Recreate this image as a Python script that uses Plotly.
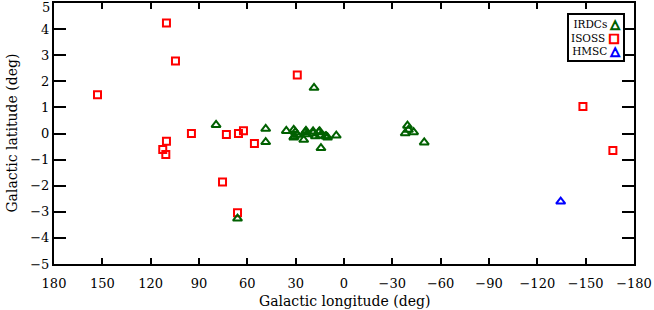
import plotly.graph_objects as go

# ISOSS (red squares)
isoss_lon = [153.0, 110.2, 104.6, 29.0, 94.7, 110.2, 112.5, 110.6, 73.0, 65.5, 62.4, 55.6, 75.4, 66.1, -148.3, -166.9]
isoss_lat = [1.48, 4.23, 2.78, 2.24, 0.0, -0.30, -0.61, -0.80, -0.04, 0.0, 0.11, -0.38, -1.86, -3.04, 1.03, -0.65]

# IRDCs (green triangles)
irdc_lon = [79.4, 48.6, 48.6, 66.1, 18.6, 35.8, 30.2, 29.1, 31.2, 24.0, 23.4, 25.0, 19.2, 17.8, 15.7, 14.7,
            11.6, 10.2, 14.3, 4.8, 31.2, 30.8, 23.6, 19.2, 15.1, 11.0, -39.4, -38.0, -43.2, -40.0, -49.8]
irdc_lat = [0.33, 0.18, -0.33, -3.26, 1.75, 0.10, 0.05, -0.05, -0.15, 0.05, -0.03, -0.24, 0.01, -0.11, 0.05, -0.08,
            -0.11, -0.15, -0.56, -0.08, 0.14, -0.11, 0.10, 0.08, 0.08, -0.11, 0.30, 0.01, 0.05, 0.14, -0.34]

# HMSC (blue triangle)
hmsc_lon = [-134.5]
hmsc_lat = [-2.61]

xticks = [180, 150, 120, 90, 60, 30, 0, -30, -60, -90, -120, -150, -180]
yticks = [-5, -4, -3, -2, -1, 0, 1, 2, 3, 4, 5]

fuente = "DejaVu Serif"
verde = "#006000"

def etiqueta(v):
    return str(v) if v >= 0 else "\u2212" + str(-v)

fig = go.Figure()
fig.add_trace(go.Scatter(x=isoss_lon, y=isoss_lat, mode="markers", name="ISOSS",
                         marker=dict(symbol="square-open", size=7, color="red", line=dict(width=2))))
fig.add_trace(go.Scatter(x=irdc_lon, y=irdc_lat, mode="markers", name="IRDCs",
                         marker=dict(symbol="triangle-up-open", size=8, color=verde, line=dict(width=2))))
fig.add_trace(go.Scatter(x=hmsc_lon, y=hmsc_lat, mode="markers", name="HMSC",
                         marker=dict(symbol="triangle-up-open", size=8, color="blue", line=dict(width=2))))

# leyenda hecha a mano (texto a la izquierda, simbolo a la derecha)
sim = "<span style='color:%s;stroke:%s;stroke-width:1.3px;font-size:12px'>%s</span>"
leyenda = ("IRDCs " + sim % (verde, verde, "△") + "<br>"
           "ISOSS " + sim % ("red", "red", "□") + "<br>"
           "HMSC " + sim % ("blue", "blue", "△"))
fig.add_annotation(xref="paper", yref="paper", x=0.9845, y=0.96, xanchor="right", yanchor="top",
                   text=leyenda, showarrow=False, align="right",
                   font=dict(family=fuente, size=10.5, color="black"),
                   bordercolor="black", borderwidth=2, bgcolor="white", borderpad=2)

# la etiqueta "5" va un poco mas abajo para que no se corte arriba
ytext = [etiqueta(t) if t != yticks[-1] else "" for t in yticks]
fig.add_annotation(xref="paper", yref="y", x=0, y=yticks[-1], xanchor="right", yanchor="middle",
                   xshift=-2, yshift=-4, text=etiqueta(yticks[-1]), showarrow=False,
                   font=dict(size=13, color="black"))

# titulos de ejes como anotaciones para fijar la posicion
fig.add_annotation(xref="paper", yref="paper", x=0.5, y=-0.14, xanchor="center", yanchor="middle",
                   text="Galactic longitude (deg)", showarrow=False, font=dict(size=14, color="black"))
fig.add_annotation(xref="paper", yref="paper", x=-0.074, y=0.5, xanchor="center", yanchor="middle",
                   text="Galactic latitude (deg)", showarrow=False, textangle=-90,
                   font=dict(size=14, color="black"))

fig.update_layout(
    width=654, height=310,
    margin=dict(l=54, r=20, t=3, b=46),
    paper_bgcolor="white", plot_bgcolor="white",
    showlegend=False,
    font=dict(family=fuente, size=13, color="black"),
)
fig.update_xaxes(range=[180, -180], tickvals=xticks, ticktext=[etiqueta(t) for t in xticks],
                 showline=True, linecolor="black", linewidth=2, mirror="allticks",
                 ticks="inside", ticklen=6, tickwidth=2, tickcolor="black",
                 showgrid=False, zeroline=False, ticklabelstandoff=6, automargin=False,
                 ticklabeloverflow="allow")
fig.update_yaxes(range=[-5, 5.0001], tickvals=yticks, ticktext=ytext,
                 showline=True, linecolor="black", linewidth=2, mirror="allticks",
                 ticks="inside", ticklen=12, tickwidth=2, tickcolor="black",
                 showgrid=False, zeroline=False, automargin=False, ticklabeloverflow="allow")

# quitar el margen del body para que la figura empiece en (0,0)
fig.write_html("out.html", config={"displayModeBar": False},
               post_script="document.body.style.margin='0px';")
